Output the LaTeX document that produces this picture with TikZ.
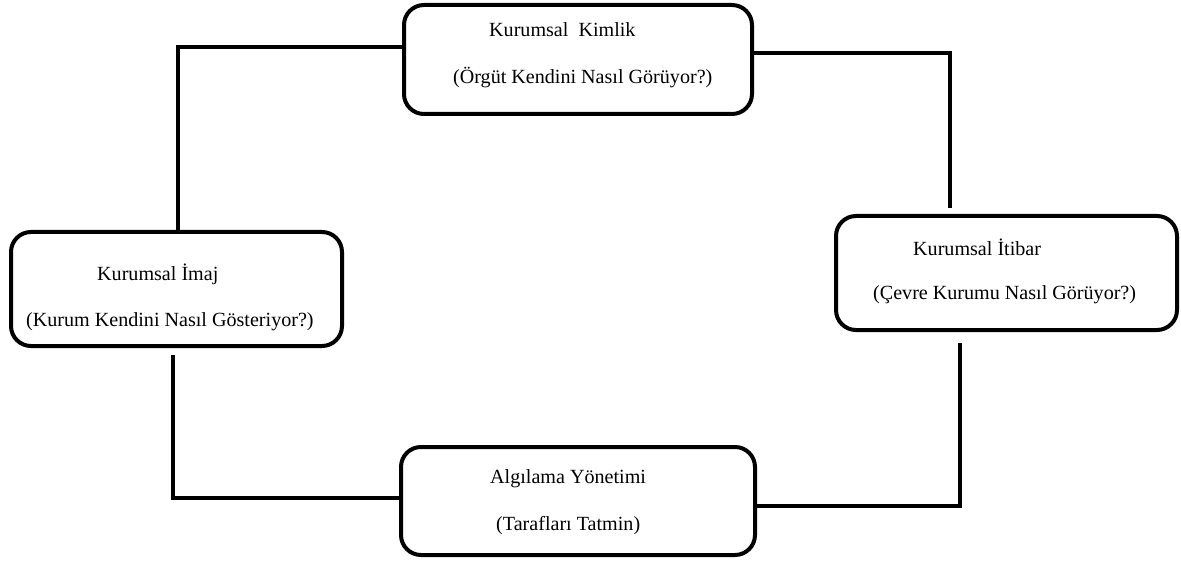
\documentclass[tikz,border=0pt]{standalone}
\usepackage{fontspec}
\setmainfont{Liberation Serif}
\begin{document}
\begin{tikzpicture}[x=1pt,y=-1pt,
  box/.style={draw=black, line width=4pt, rounded corners=20pt, fill=white,
    rectangle, inner sep=0pt},
  label/.style={anchor=base west, inner sep=0pt, font=\fontsize{20.1pt}{24pt}\selectfont},
  link/.style={draw=black, line width=4pt}]
\useasboundingbox[fill=white] (0,0) rectangle (1181,564);

% boxes
\node[box, minimum width=348pt, minimum height=109pt] (kimlik) at (578,59.5) {};
\node[box, minimum width=331pt, minimum height=114pt] (imaj) at (176.5,289) {};
\node[box, minimum width=341pt, minimum height=114pt] (itibar) at (1006.5,273) {};
\node[box, minimum width=354pt, minimum height=108pt] (algi) at (578,501) {};

% texts
\node[label] (kimlik1) at (489,37) {Kurumsal\ \ Kimlik};
\node[label] (kimlik2) at (453,84) {(Örgüt Kendini Nasıl Görüyor?)};
\node[label] (imaj1) at (97,280) {Kurumsal İmaj};
\node[label] (imaj2) at (26,326) {(Kurum Kendini Nasıl Gösteriyor?)};
\node[label] (itibar1) at (913,255) {Kurumsal İtibar};
\node[label] (itibar2) at (873,299) {(Çevre Kurumu Nasıl Görüyor?)};
\node[label] (algi1) at (490,483) {Algılama Yönetimi};
\node[label] (algi2) at (496,530) {(Tarafları Tatmin)};

% bend points and free ends of the connectors
\coordinate (c1) at (178,47);
\coordinate (c2) at (950,53);
\coordinate (c2e) at (950,208);
\coordinate (c3) at (960,506);
\coordinate (c3s) at (960,343);
\coordinate (c4) at (173,498);
\coordinate (c4s) at (173,355);

% connectors
\draw[link] (c1 -| kimlik.west) -- (c1) -- (c1 |- imaj.north);
\draw[link] (c2 -| kimlik.east) -- (c2) -- (c2e);
\draw[link] (c3s) -- (c3) -- (c3 -| algi.east);
\draw[link] (c4s) -- (c4) -- (c4 -| algi.west);
\end{tikzpicture}
\end{document}
